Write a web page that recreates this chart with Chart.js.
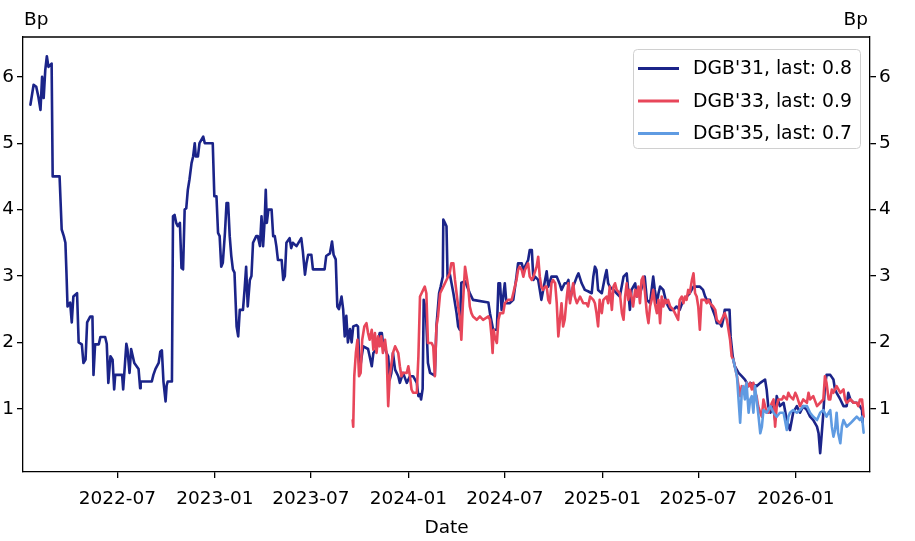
<!DOCTYPE html>
<html>
<head>
<meta charset="utf-8">
<script src="https://cdn.jsdelivr.net/npm/chart.js@4.4.1/dist/chart.umd.min.js"></script>
<style>
  html, body { margin: 0; padding: 0; background: #fff; }
</style>
</head>
<body>
<canvas id="myChart" width="915" height="541"></canvas>
<script>
// DGB'31 spread (Bp)
const dates31 = [
  '2022-01-18','2022-01-24','2022-01-29','2022-02-02','2022-02-06','2022-02-09','2022-02-12','2022-02-15','2022-02-18','2022-02-21',
  '2022-02-27','2022-03-01','2022-03-14','2022-03-18','2022-03-22','2022-03-25','2022-03-27','2022-03-29','2022-04-03','2022-04-06',
  '2022-04-09','2022-04-16','2022-04-19','2022-04-25','2022-04-28','2022-05-02','2022-05-05','2022-05-11','2022-05-15','2022-05-17',
  '2022-05-20','2022-05-27','2022-05-30','2022-06-08','2022-06-11','2022-06-14','2022-06-18','2022-06-22','2022-06-25','2022-06-27',
  '2022-07-10','2022-07-12','2022-07-18','2022-07-20','2022-07-24','2022-07-27','2022-08-02','2022-08-10','2022-08-13','2022-08-14',
  '2022-09-04','2022-09-07','2022-09-11','2022-09-17','2022-09-20','2022-09-23','2022-09-26','2022-09-30','2022-10-02','2022-10-04',
  '2022-10-12','2022-10-14','2022-10-17','2022-10-20','2022-10-23','2022-10-27','2022-10-30','2022-11-02','2022-11-05','2022-11-08',
  '2022-11-11','2022-11-14','2022-11-18','2022-11-21','2022-11-24','2022-11-26','2022-11-30','2022-12-03','2022-12-10','2022-12-13',
  '2022-12-28','2022-12-31','2023-01-04','2023-01-07','2023-01-10','2023-01-13','2023-01-16','2023-01-20','2023-01-23','2023-01-26',
  '2023-01-29','2023-02-01','2023-02-04','2023-02-07','2023-02-11','2023-02-14','2023-02-17','2023-02-23','2023-02-26','2023-03-01',
  '2023-03-04','2023-03-08','2023-03-11','2023-03-14','2023-03-20','2023-03-23','2023-03-27','2023-03-30','2023-04-02','2023-04-05',
  '2023-04-07','2023-04-09','2023-04-12','2023-04-18','2023-04-21','2023-04-24','2023-04-27','2023-04-30','2023-05-07','2023-05-10',
  '2023-05-13','2023-05-16','2023-05-22','2023-05-25','2023-05-28','2023-06-04','2023-06-13','2023-06-16','2023-06-20','2023-06-23',
  '2023-06-26','2023-07-02','2023-07-05','2023-07-27','2023-07-30','2023-08-06','2023-08-10','2023-08-13','2023-08-17','2023-08-20',
  '2023-08-23','2023-08-28','2023-08-31','2023-09-03','2023-09-06','2023-09-09','2023-09-13','2023-09-16','2023-09-19','2023-09-25',
  '2023-09-28','2023-10-01','2023-10-05','2023-10-08','2023-10-17','2023-10-20','2023-10-24','2023-10-27','2023-11-02','2023-11-08',
  '2023-11-12','2023-11-14','2023-11-21','2023-11-24','2023-11-27','2023-11-30','2023-12-03','2023-12-07','2023-12-13','2023-12-16',
  '2023-12-22','2023-12-29','2024-01-04','2024-01-10','2024-01-17','2024-01-20','2024-01-23','2024-01-25','2024-01-28','2024-01-30',
  '2024-02-03','2024-02-07','2024-02-11','2024-02-20','2024-02-23','2024-02-28','2024-03-02','2024-03-06','2024-03-07','2024-03-10',
  '2024-03-13','2024-03-15','2024-03-19','2024-03-26','2024-04-01','2024-04-04','2024-04-07','2024-04-10','2024-04-17','2024-04-23',
  '2024-04-26','2024-05-02','2024-05-31','2024-06-03','2024-06-09','2024-06-16','2024-06-19','2024-06-22','2024-06-25','2024-07-01',
  '2024-07-04','2024-07-10','2024-07-17','2024-07-23','2024-07-26','2024-08-02','2024-08-05','2024-08-11','2024-08-14','2024-08-17',
  '2024-08-21','2024-08-24','2024-08-27','2024-09-02','2024-09-05','2024-09-08','2024-09-15','2024-09-18','2024-09-21','2024-09-27',
  '2024-10-07','2024-10-13','2024-10-16','2024-10-22','2024-10-26','2024-10-29','2024-11-01','2024-11-07','2024-11-14','2024-11-17',
  '2024-11-23','2024-11-29','2024-12-05','2024-12-12','2024-12-15','2024-12-18','2024-12-21','2024-12-24','2024-12-31','2025-01-06',
  '2025-01-09','2025-01-12','2025-01-15','2025-01-22','2025-01-28','2025-02-03','2025-02-10','2025-02-16','2025-02-22','2025-02-25',
  '2025-03-04','2025-03-07','2025-03-13','2025-03-19','2025-03-22','2025-03-26','2025-04-01','2025-04-04','2025-04-07','2025-04-10',
  '2025-04-14','2025-04-17','2025-04-20','2025-04-26','2025-05-02','2025-05-09','2025-05-15','2025-05-21','2025-05-27','2025-06-03',
  '2025-06-09','2025-06-15','2025-06-22','2025-07-04','2025-07-10','2025-07-14','2025-07-17','2025-07-23','2025-07-26','2025-08-02',
  '2025-08-05','2025-08-11','2025-08-14','2025-08-17','2025-08-20','2025-08-29','2025-08-31','2025-09-04','2025-09-08','2025-09-15',
  '2025-09-21','2025-09-27','2025-10-04','2025-10-07','2025-10-19','2025-10-26','2025-11-04','2025-11-07','2025-11-10','2025-11-14',
  '2025-11-20','2025-11-23','2025-11-26','2025-12-02','2025-12-09','2025-12-15','2025-12-21','2025-12-27','2026-01-03','2026-01-09',
  '2026-01-15','2026-01-22','2026-01-28','2026-02-03','2026-02-10','2026-02-13','2026-02-16','2026-02-19','2026-02-22','2026-02-25',
  '2026-02-28','2026-03-07','2026-03-13','2026-03-16','2026-03-19','2026-03-26','2026-04-01','2026-04-07','2026-04-10','2026-04-14',
  '2026-04-20','2026-04-26','2026-05-02','2026-05-06','2026-05-07'
];
const vals31 = [
  5.58,5.88,5.85,5.70,5.50,6.00,5.68,6.10,6.31,6.15,
  6.20,4.50,4.50,3.70,3.60,3.50,3.05,2.54,2.60,2.30,
  2.69,2.74,2.00,1.97,1.69,1.74,2.30,2.39,2.39,1.51,
  1.97,1.97,2.08,2.08,1.98,1.39,1.79,1.74,1.29,1.51,
  1.51,1.29,1.98,1.90,1.54,1.90,1.69,1.60,1.31,1.41,
  1.41,1.51,1.60,1.69,1.86,1.88,1.41,1.11,1.35,1.41,
  1.41,3.90,3.92,3.80,3.75,3.80,3.12,3.10,4.00,4.02,
  4.30,4.45,4.70,4.80,5.00,4.80,4.80,5.00,5.10,5.00,
  5.00,4.20,4.20,3.65,3.60,3.14,3.20,3.65,4.10,4.10,
  3.60,3.30,3.10,3.05,2.24,2.09,2.49,2.49,2.79,3.14,
  2.54,2.94,3.00,3.50,3.60,3.60,3.45,3.90,3.45,3.85,
  4.30,3.80,4.00,4.00,3.60,3.60,3.45,3.24,3.24,2.94,
  3.00,3.50,3.57,3.42,3.50,3.45,3.57,3.37,3.02,3.20,
  3.32,3.32,3.10,3.10,3.30,3.34,3.52,3.32,3.25,2.54,
  2.50,2.69,2.50,2.09,2.40,2.00,2.20,2.00,2.24,2.26,
  2.24,1.54,1.79,1.94,1.90,1.79,1.64,1.84,1.90,2.14,
  2.14,2.00,1.84,1.79,1.44,1.54,1.84,1.59,1.49,1.39,
  1.54,1.39,1.49,1.49,1.39,1.19,1.22,1.14,1.30,2.64,
  2.50,1.69,1.54,1.50,2.24,2.74,2.84,2.99,3.85,3.80,
  3.75,2.99,3.04,2.74,2.44,2.24,2.19,2.90,2.92,2.80,
  2.74,2.64,2.60,2.44,2.19,2.19,2.89,2.89,2.49,2.89,
  2.59,2.59,2.64,2.99,3.19,3.19,3.09,3.19,3.24,3.39,
  3.39,2.94,2.99,2.94,2.79,2.64,2.94,3.07,2.84,2.99,
  2.99,2.87,2.79,2.89,2.89,2.94,2.64,2.84,2.99,3.04,
  2.89,2.79,2.77,2.74,2.99,3.14,3.09,2.79,2.74,2.99,
  3.09,2.89,2.84,2.79,2.74,2.69,2.99,3.04,2.49,2.79,
  2.89,2.69,2.74,2.89,2.99,2.64,2.59,2.79,2.99,2.79,
  2.59,2.74,2.84,2.79,2.59,2.49,2.49,2.54,2.49,2.64,
  2.69,2.74,2.84,2.84,2.79,2.69,2.64,2.64,2.54,2.39,
  2.29,2.29,2.24,2.34,2.49,2.49,2.09,1.79,1.64,1.54,
  1.49,1.44,1.34,1.39,1.34,1.39,1.44,1.29,1.04,0.94,
  1.04,0.83,1.19,1.04,1.09,0.83,0.68,0.94,1.04,0.94,
  1.04,0.98,0.88,0.83,0.73,0.63,0.33,0.63,0.94,1.34,
  1.51,1.51,1.44,1.29,1.24,1.14,1.04,1.04,1.24,1.14,
  1.09,1.09,1.04,0.98,0.80
];

// DGB'33 spread (Bp)
const dates33 = [
  '2023-09-18','2023-09-19','2023-09-21','2023-09-24','2023-09-27','2023-09-30','2023-10-03','2023-10-06','2023-10-10','2023-10-14',
  '2023-10-17','2023-10-20','2023-10-24','2023-10-27','2023-10-30','2023-11-02','2023-11-05','2023-11-08','2023-11-11','2023-11-14',
  '2023-11-18','2023-11-21','2023-11-24','2023-11-27','2023-12-03','2023-12-07','2023-12-13','2023-12-16','2023-12-19','2023-12-22',
  '2023-12-29','2024-01-01','2024-01-04','2024-01-07','2024-01-10','2024-01-17','2024-01-20','2024-01-23','2024-01-26','2024-01-29',
  '2024-02-01','2024-02-04','2024-02-07','2024-02-14','2024-02-17','2024-02-20','2024-02-23','2024-02-26','2024-03-01','2024-03-07',
  '2024-03-13','2024-03-19','2024-03-22','2024-03-26','2024-03-29','2024-04-01','2024-04-04','2024-04-07','2024-04-10','2024-04-13',
  '2024-04-17','2024-04-20','2024-04-23','2024-04-26','2024-04-29','2024-05-02','2024-05-09','2024-05-15','2024-05-21','2024-05-31',
  '2024-06-03','2024-06-06','2024-06-08','2024-06-10','2024-06-12','2024-06-16','2024-06-19','2024-06-22','2024-06-28','2024-07-01',
  '2024-07-07','2024-07-14','2024-07-17','2024-07-20','2024-07-23','2024-07-26','2024-07-29','2024-08-02','2024-08-05','2024-08-08',
  '2024-08-11','2024-08-14','2024-08-17','2024-08-21','2024-08-24','2024-08-30','2024-09-02','2024-09-05','2024-09-08','2024-09-11',
  '2024-09-15','2024-09-18','2024-09-21','2024-09-24','2024-09-27','2024-09-30','2024-10-04','2024-10-07','2024-10-10','2024-10-13',
  '2024-10-16','2024-10-19','2024-10-22','2024-10-26','2024-10-29','2024-11-01','2024-11-07','2024-11-10','2024-11-14','2024-11-20',
  '2024-11-26','2024-12-02','2024-12-05','2024-12-09','2024-12-15','2024-12-18','2024-12-21','2024-12-24','2024-12-27','2024-12-31',
  '2025-01-03','2025-01-09','2025-01-12','2025-01-15','2025-01-19','2025-01-22','2025-01-25','2025-01-28','2025-02-03','2025-02-07',
  '2025-02-10','2025-02-13','2025-02-16','2025-02-19','2025-02-22','2025-02-25','2025-02-28','2025-03-04','2025-03-07','2025-03-10',
  '2025-03-13','2025-03-16','2025-03-19','2025-03-22','2025-03-26','2025-03-29','2025-04-01','2025-04-04','2025-04-07','2025-04-10',
  '2025-04-14','2025-04-17','2025-04-20','2025-04-23','2025-04-26','2025-04-29','2025-05-02','2025-05-05','2025-05-09','2025-05-15',
  '2025-05-18','2025-05-24','2025-05-27','2025-05-31','2025-06-03','2025-06-06','2025-06-09','2025-06-12','2025-06-15','2025-06-19',
  '2025-06-22','2025-06-25','2025-06-28','2025-07-01','2025-07-04','2025-07-07','2025-07-14','2025-07-17','2025-07-20','2025-07-23',
  '2025-07-29','2025-08-02','2025-08-05','2025-08-11','2025-08-17','2025-08-20','2025-08-24','2025-08-27','2025-08-30','2025-09-02',
  '2025-09-05','2025-09-08','2025-09-12','2025-09-15','2025-09-18','2025-09-21','2025-09-24','2025-09-27','2025-09-30','2025-10-04',
  '2025-10-07','2025-10-10','2025-10-13','2025-10-16','2025-10-19','2025-10-22','2025-10-26','2025-10-29','2025-11-01','2025-11-07',
  '2025-11-10','2025-11-17','2025-11-20','2025-11-23','2025-11-26','2025-11-29','2025-12-06','2025-12-09','2025-12-15','2025-12-18',
  '2025-12-21','2025-12-27','2025-12-31','2026-01-03','2026-01-09','2026-01-15','2026-01-22','2026-01-25','2026-01-28','2026-02-03',
  '2026-02-10','2026-02-16','2026-02-22','2026-02-25','2026-02-28','2026-03-04','2026-03-07','2026-03-10','2026-03-13','2026-03-19',
  '2026-03-26','2026-04-01','2026-04-04','2026-04-07','2026-04-14','2026-04-20','2026-04-26','2026-04-29','2026-05-02','2026-05-06',
  '2026-05-09'
];
const vals33 = [
  0.83,0.73,1.49,1.84,2.04,1.49,1.54,2.04,2.24,2.29,
  2.14,2.04,2.19,1.89,2.14,1.84,2.09,1.94,2.09,1.84,
  2.04,1.84,1.04,1.49,1.84,1.94,1.84,1.64,1.49,1.54,
  1.54,1.64,1.49,1.29,1.24,1.24,1.79,2.69,2.74,2.79,
  2.84,2.74,1.99,1.99,1.94,1.49,2.24,2.39,2.74,2.84,
  2.94,3.04,3.19,3.19,2.94,2.74,2.54,2.39,2.04,2.59,
  3.14,2.99,2.84,2.54,2.44,2.39,2.34,2.39,2.34,2.39,
  2.34,2.09,1.84,2.19,2.09,1.99,2.34,2.44,2.44,2.59,
  2.64,2.64,2.74,2.84,2.94,3.09,3.14,3.09,2.99,3.09,
  3.14,3.19,2.99,2.94,2.99,3.14,3.29,2.99,2.84,2.79,
  2.84,2.84,2.64,2.59,2.89,2.94,2.89,2.59,2.09,2.34,
  2.59,2.24,2.34,2.69,2.89,2.59,2.89,2.69,2.59,2.69,
  2.59,2.59,2.54,2.69,2.64,2.59,2.44,2.24,2.64,2.44,
  2.64,2.69,2.59,2.84,2.49,2.84,2.89,2.79,2.74,2.44,
  2.34,2.69,2.89,2.64,2.79,2.69,2.54,2.79,2.69,2.84,
  2.59,2.94,2.99,2.79,2.44,2.29,2.54,2.64,2.79,2.59,
  2.44,2.64,2.29,2.69,2.54,2.64,2.59,2.64,2.54,2.49,
  2.44,2.34,2.64,2.69,2.59,2.69,2.64,2.79,2.74,2.94,
  3.04,2.74,2.69,2.54,2.19,2.64,2.64,2.59,2.64,2.59,
  2.54,2.49,2.34,2.29,2.39,2.44,2.34,2.19,2.04,1.79,
  1.74,1.64,1.49,1.34,1.19,1.34,1.24,1.29,1.39,1.34,
  1.39,1.29,1.39,1.24,1.19,1.04,0.94,0.88,1.14,0.94,
  0.94,1.09,1.14,0.73,1.04,1.14,1.14,1.19,1.14,1.24,
  1.19,1.14,1.24,1.19,1.04,1.14,1.09,1.24,1.14,1.19,
  1.04,1.09,1.14,1.49,1.39,1.14,1.14,1.29,1.24,1.34,
  1.24,1.29,1.14,1.09,1.14,1.09,1.09,1.04,1.14,1.14,
  0.88
];

// DGB'35 spread (Bp)
const dates35 = [
  '2025-09-05','2025-09-12','2025-09-18','2025-09-21','2025-09-24','2025-09-27','2025-09-30','2025-10-04','2025-10-07','2025-10-10',
  '2025-10-13','2025-10-16','2025-10-19','2025-10-22','2025-10-26','2025-10-29','2025-11-01','2025-11-07','2025-11-10','2025-11-14',
  '2025-11-20','2025-11-26','2025-12-02','2025-12-09','2025-12-15','2025-12-18','2025-12-21','2025-12-27','2026-01-03','2026-01-09',
  '2026-01-15','2026-01-22','2026-01-28','2026-02-03','2026-02-10','2026-02-16','2026-02-22','2026-02-28','2026-03-04','2026-03-07',
  '2026-03-10','2026-03-13','2026-03-16','2026-03-19','2026-03-22','2026-03-26','2026-03-29','2026-04-01','2026-04-04','2026-04-07',
  '2026-04-14','2026-04-20','2026-04-26','2026-05-02','2026-05-06','2026-05-09'
];
const vals35 = [
  1.74,1.49,0.79,1.24,1.34,1.14,1.39,0.94,1.14,1.19,
  0.94,1.34,1.14,0.94,0.63,0.73,0.98,0.94,0.98,1.04,
  0.94,0.88,0.94,0.94,0.68,0.88,0.94,0.98,0.94,0.98,
  1.04,1.04,0.94,0.88,0.83,0.94,0.98,0.88,0.94,0.98,
  0.73,0.58,0.68,0.94,0.63,0.48,0.73,0.83,0.78,0.73,
  0.78,0.83,0.88,0.83,0.88,0.64
];

const seriesNames = ["DGB'31, last: 0.8", "DGB'33, last: 0.9", "DGB'35, last: 0.7"];
const seriesColors = ['#1b2489', '#e8465a', '#5f9be2'];
const xTickLabels = ['2022-07','2023-01','2023-07','2024-01','2024-07','2025-01','2025-07','2026-01'];
const yTicks = [1, 2, 3, 4, 5, 6];
const xStart = '2022-01-04';
const xEnd = '2026-05-21';

const FONT = '"DejaVu Sans", sans-serif';
const day = s => Date.parse(s) / 86400000;
const pts = (d, v) => d.map((s, i) => ({ x: day(s), y: v[i] }));

// frame, "Bp" labels and the legend box inside the plot
const extras = {
  id: 'extras',
  afterDraw(chart) {
    const c = chart.ctx, a = chart.chartArea;
    c.save();
    c.strokeStyle = '#000'; c.lineWidth = 1.3;
    c.beginPath(); c.moveTo(a.left, a.top); c.lineTo(a.right, a.top); c.stroke();

    c.fillStyle = '#000';
    c.font = '18.5px ' + FONT;
    c.textBaseline = 'alphabetic';
    c.textAlign = 'left'; c.fillText('Bp', a.left + 1, 25);
    c.textAlign = 'right'; c.fillText('Bp', a.right - 2, 25);

    // legend
    const bx = 633, by = 49, bw = 227, bh = 99;
    c.fillStyle = 'rgba(255,255,255,0.85)';
    c.strokeStyle = '#d0d0d0'; c.lineWidth = 1;
    c.beginPath(); c.roundRect(bx + 0.5, by + 0.5, bw, bh, 4); c.fill(); c.stroke();
    c.font = '18.8px ' + FONT;
    c.textAlign = 'left'; c.textBaseline = 'middle';
    seriesNames.forEach((n, i) => {
      const yy = by + 19.5 + i * 32.5;
      c.strokeStyle = seriesColors[i]; c.lineWidth = 2.8;
      c.beginPath(); c.moveTo(bx + 5, yy); c.lineTo(bx + 46, yy); c.stroke();
      c.fillStyle = '#000';
      c.fillText(n, bx + 60, yy + 1);
    });
    c.restore();
  }
};

const yAxis = (pos) => ({
  type: 'linear', position: pos, min: 0.047, max: 6.6,
  afterBuildTicks: s => { s.ticks = yTicks.map(v => ({ value: v })); },
  afterFit: s => { s.width = pos === 'left' ? 23 : 45; },
  grid: { drawOnChartArea: false, drawTicks: true, tickLength: 6, color: '#000', lineWidth: 1.3 },
  border: { display: true, color: '#000', width: 1.3 },
  ticks: { color: '#000', padding: 3, font: { size: 18.5 }, callback: v => String(v) }
});

new Chart(document.getElementById('myChart'), {
  type: 'line',
  data: {
    datasets: [
      { label: seriesNames[0], data: pts(dates31, vals31), borderColor: seriesColors[0], order: 3 },
      { label: seriesNames[1], data: pts(dates33, vals33), borderColor: seriesColors[1], order: 2 },
      { label: seriesNames[2], data: pts(dates35, vals35), borderColor: seriesColors[2], order: 1 }
    ]
  },
  options: {
    responsive: false,
    animation: false,
    devicePixelRatio: 1,
    layout: { padding: { top: 37, left: 0, right: 0, bottom: 0 } },
    elements: {
      line: { borderWidth: 2.6, tension: 0, borderJoinStyle: 'round', borderCapStyle: 'round' },
      point: { radius: 0 }
    },
    font: { family: FONT },
    plugins: { legend: { display: false }, tooltip: { enabled: false } },
    scales: {
      x: {
        type: 'linear', min: day(xStart), max: day(xEnd),
        afterBuildTicks: s => { s.ticks = xTickLabels.map(l => ({ value: day(l + '-01') })); },
        afterFit: s => { s.height = 69; },
        grid: { drawOnChartArea: false, drawTicks: true, tickLength: 6, color: '#000', lineWidth: 1.3 },
        border: { display: true, color: '#000', width: 1.3 },
        ticks: { color: '#000', padding: 10, maxRotation: 0, autoSkip: false, font: { size: 18.5 },
                 callback: (v, i) => xTickLabels[i] },
        title: { display: true, text: 'Date', color: '#000', font: { size: 18.5 }, padding: { top: 0, bottom: 2 } }
      },
      y: yAxis('left'),
      y2: yAxis('right')
    }
  },
  plugins: [extras]
});
</script>
</body>
</html>
